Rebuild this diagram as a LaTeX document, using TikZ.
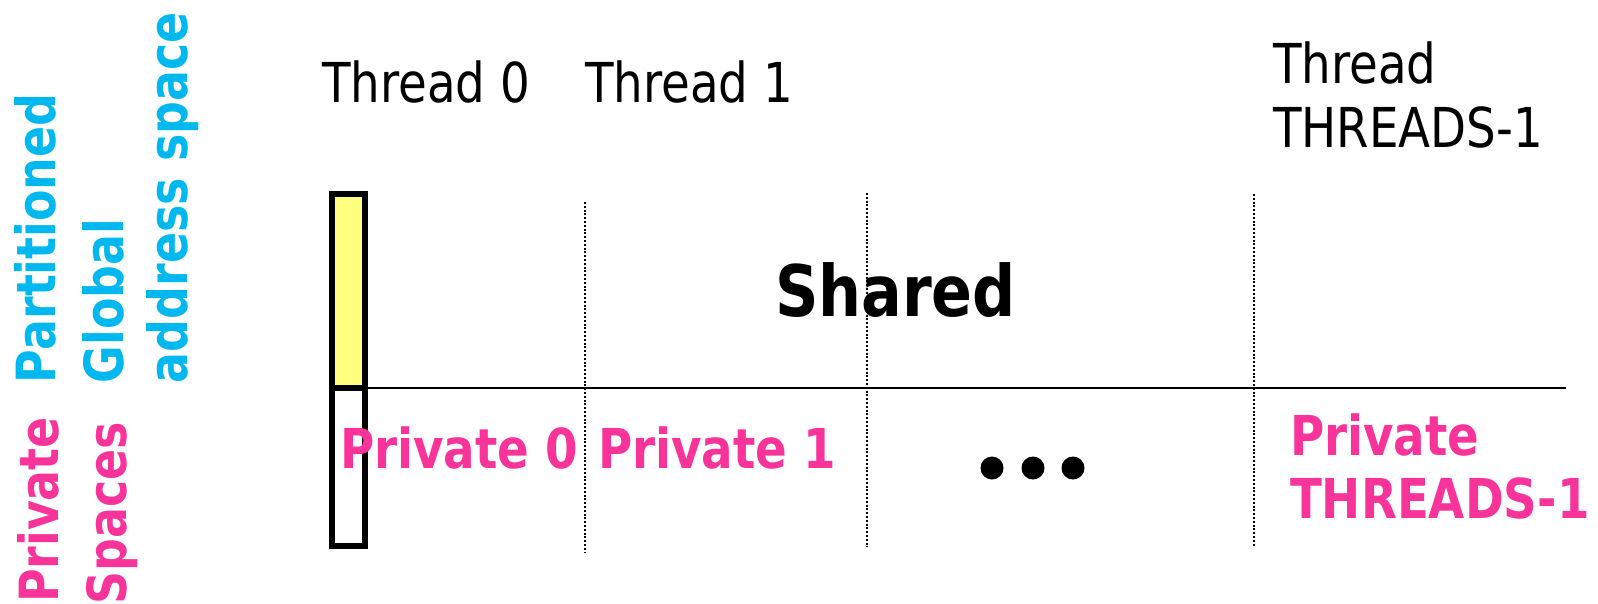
\documentclass[tikz,border=0pt]{standalone}
\usepackage{fontspec}
\setmainfont[FakeStretch=0.85]{DejaVu Sans}
\definecolor{gascyan}{HTML}{00B8F0}
\definecolor{privpink}{HTML}{F8339A}
\definecolor{memyellow}{HTML}{FFFF80}
\tikzset{
  label/.style={inner sep=0pt, outer sep=0pt, anchor=base west, font=\fontsize{55}{66}\selectfont},
  privlabel/.style={label, font=\fontsize{55}{66}\selectfont\bfseries, text=privpink},
  sidelabel/.style={inner sep=0pt, outer sep=0pt, rotate=90, font=\fontsize{54}{64}\selectfont\bfseries},
  memcell/.style={draw=black, line width=6pt, inner sep=0pt, outer sep=0pt},
  divider/.style={draw=black, line width=2.2pt, dash pattern=on 2pt off 1.8pt},
  dot/.style={circle, fill=black, minimum size=23pt, inner sep=0pt}
}
\begin{document}
\begin{tikzpicture}[x=1pt, y=-1pt]
\useasboundingbox (0,0) rectangle (1598,603);

% side captions, reading bottom to top
\node[sidelabel, text=gascyan, anchor=base west] (partitioned) at (55,383) {Partitioned};
\node[sidelabel, text=gascyan, anchor=base west] (global) at (123,383) {Global};
\node[sidelabel, text=gascyan, anchor=base west] (address) at (187,383) {address space};
\node[sidelabel, text=privpink, anchor=base east] (private) at (58,417) {Private};
\node[sidelabel, text=privpink, anchor=base east] (spaces) at (126,422) {Spaces};

% thread headings
\node[label] (t0) at (322,102) {Thread 0};
\node[label] (t1) at (585,102) {Thread 1};
\node[label] (tn) at (1273,83) {Thread};
\node[label] (tnb) at (1273,147) {THREADS-1};

% one thread's slice of memory: shared part on top, private part below
\draw[memcell, fill=memyellow] (332,194) rectangle (365,388);
\draw[memcell, fill=white] (332,388) rectangle (365,546);

% boundary between shared and private space
\coordinate (linestart) at (365,388);
\coordinate (lineend) at (1566,388);
\draw[line width=1.6pt] (linestart) -- (lineend);

% partitions between threads
\coordinate (d1t) at (585,202); \coordinate (d1b) at (585,553);
\coordinate (d2t) at (867,193); \coordinate (d2b) at (867,547);
\coordinate (d3t) at (1254,194); \coordinate (d3b) at (1254,547);
\draw[divider] (d1t) -- (d1b);
\draw[divider] (d2t) -- (d2b);
\draw[divider] (d3t) -- (d3b);

% labels inside the space
\node[label, font=\fontsize{71}{80}\selectfont\bfseries] (shared) at (775,316) {Shared};
\node[privlabel] (p0) at (340,468) {Private 0};
\node[privlabel] (p1) at (598,468) {Private 1};
\node[privlabel] (pn) at (1290,455) {Private};
\node[privlabel] (pnb) at (1290,518) {THREADS-1};

% ellipsis
\node[dot] (e1) at (992,468) {};
\node[dot] (e2) at (1033,468) {};
\node[dot] (e3) at (1073,468) {};
\end{tikzpicture}
\end{document}
